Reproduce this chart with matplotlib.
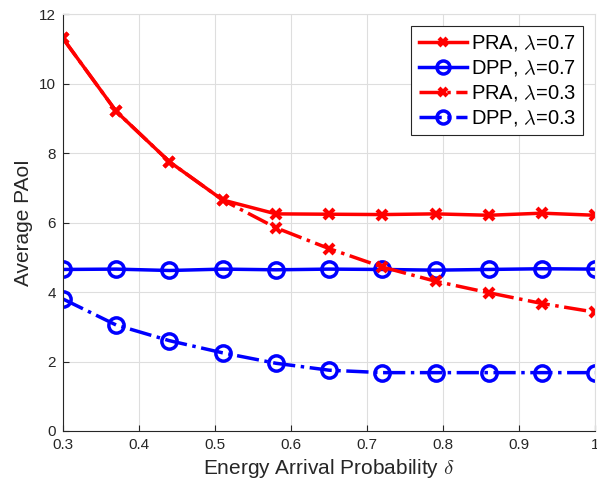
import numpy as np
import matplotlib
matplotlib.use('Agg')
import matplotlib.pyplot as plt

delta = [0.3, 0.37, 0.44, 0.51, 0.58, 0.65, 0.72, 0.79, 0.86, 0.93, 1.0]
pra_07 = [11.3, 9.2, 7.75, 6.65, 6.25, 6.24, 6.23, 6.25, 6.21, 6.27, 6.21]
dpp_07 = [4.65, 4.66, 4.62, 4.66, 4.64, 4.66, 4.65, 4.63, 4.65, 4.67, 4.66]
pra_03 = [11.3, 9.2, 7.75, 6.65, 5.85, 5.25, 4.72, 4.31, 3.98, 3.67, 3.42]
dpp_03 = [3.8, 3.05, 2.6, 2.25, 1.95, 1.75, 1.68, 1.68, 1.68, 1.68, 1.68]

plt.rcParams['font.family'] = ['Liberation Sans', 'DejaVu Sans']
plt.rcParams['mathtext.fontset'] = 'cm'

fig = plt.figure(figsize=(5.97, 4.87), dpi=100)
ax = fig.add_axes([0.1055, 0.115, 0.8915, 0.856])

ax.plot(delta, pra_07, '-', color='#ff0000', lw=2.5, marker='x', ms=7, mew=3, label=r'PRA, $\lambda$=0.7')
ax.plot(delta, dpp_07, '-', color='#0000ff', lw=2.5, marker='o', ms=11, mew=2.5, mfc='none', label=r'DPP, $\lambda$=0.7')
ax.plot(delta, pra_03, '-.', color='#ff0000', lw=2.5, marker='x', ms=7, mew=3, label=r'PRA, $\lambda$=0.3')
ax.plot(delta, dpp_03, '-.', color='#0000ff', lw=2.5, marker='o', ms=11, mew=2.5, mfc='none', label=r'DPP, $\lambda$=0.3')

ax.set_xlim(0.3, 1)
ax.set_ylim(0, 12)
ax.set_xticks([0.3, 0.4, 0.5, 0.6, 0.7, 0.8, 0.9, 1])
ax.set_xticklabels(['0.3', '0.4', '0.5', '0.6', '0.7', '0.8', '0.9', '1'])
ax.set_yticks([0, 2, 4, 6, 8, 10, 12])
ax.grid(True, color='#dedede', lw=0.8)
ax.set_axisbelow(True)
for s in ax.spines.values():
    s.set_color('#262626')
    s.set_linewidth(0.8)
ax.spines['top'].set_color('#dedede')
ax.spines['right'].set_color('#dedede')
ax.tick_params(direction='in', colors='#262626', labelsize=11, length=4, pad=5)
ax.tick_params(top=False, right=False)

ax.set_xlabel(r'Energy Arrival Probability $\delta$', fontsize=15, color='#262626')
ax.set_ylabel('Average PAoI', fontsize=15, color='#262626')

leg = ax.legend(loc='upper right', fontsize=14.5, fancybox=False, edgecolor='#262626',
                framealpha=1, handlelength=2.4, handletextpad=0.2, borderpad=0.35,
                labelspacing=0.25, borderaxespad=0.6, markerscale=0.85)
leg.get_frame().set_linewidth(0.8)

fig.savefig('out.png', dpi=100)
